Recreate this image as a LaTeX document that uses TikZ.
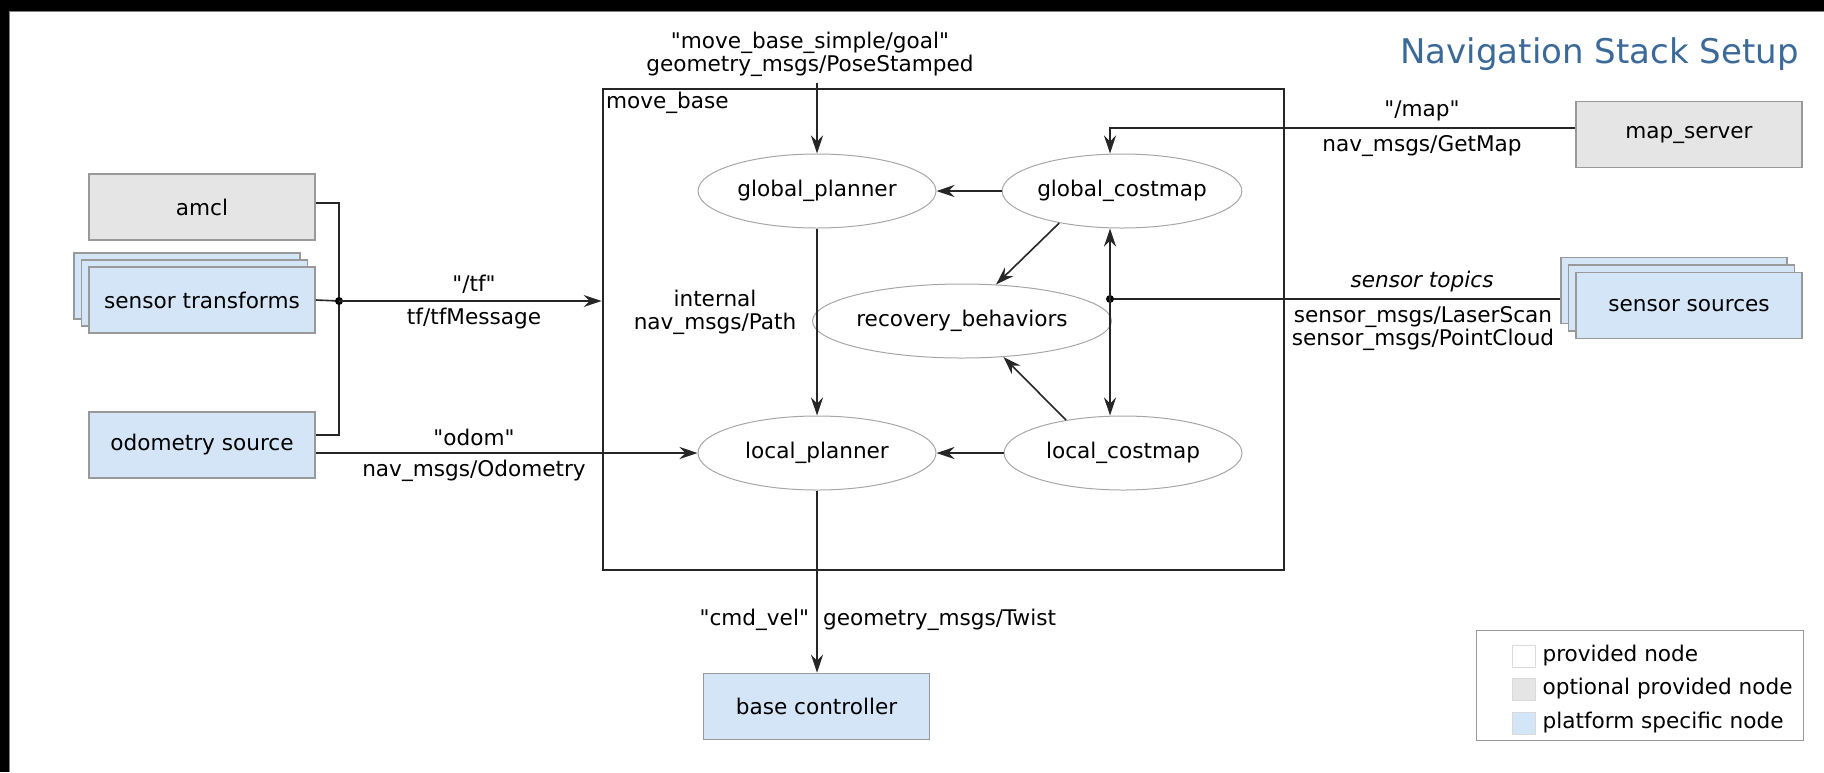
\documentclass[tikz,border=0pt]{standalone}
\usepackage{fontspec}
\newfontfamily\navfont{DejaVu Sans}
\usetikzlibrary{arrows.meta,positioning,shapes.geometric,calc}
\definecolor{optgray}{HTML}{E5E5E5}
\definecolor{platblue}{HTML}{D4E5F7}
\definecolor{edgegray}{HTML}{999999}
\definecolor{titleblue}{HTML}{3B6998}

\begin{document}
\begin{tikzpicture}[x=0.5pt, y=-0.5pt,
  font=\navfont\fontsize{10.8}{11.5}\selectfont,
  nodebox/.style={draw=edgegray, line width=0.8pt, minimum width=113pt, minimum height=33pt, inner sep=0pt},
  optbox/.style={nodebox, fill=optgray},
  platbox/.style={nodebox, fill=platblue},
  proc/.style={ellipse, draw=black!35, line width=0.5pt, minimum width=119pt, minimum height=37pt, inner sep=0pt},
  wire/.style={black!85, line width=0.8pt},
  arr/.style={wire, -{Stealth[length=9pt,width=6pt,inset=3pt]}},
  swatch/.style={draw=black!15, line width=0.5pt, minimum width=11.5pt, minimum height=11pt, inner sep=0pt}]
  \useasboundingbox (0,0) rectangle (1824,772);
  % frame edges
  \fill[black] (0,0) rectangle (1824,11);
  \fill[black] (0,0) rectangle (9,772);
  \draw[gray, line width=0.5pt] (9.5,772) -- (9.5,11.5) -- (1824,11.5);
  % title
  \node[anchor=base east, inner sep=0pt, font=\navfont\fontsize{17}{20}\selectfont, text=titleblue] (title) at (1799,63) {Navigation Stack Setup};

  % left column
  \node[optbox] (amcl) at (202,207) {amcl};
  \foreach \i in {2,1}
    \node[platbox] (sxf back\i) at ({202-7.5*\i},{300-7*\i}) {};
  \node[platbox] (sxf) at (202,300) {sensor transforms};
  \node[platbox] (odom) at (202,445) {odometry source};

  % move_base container
  \node[draw=black!85, line width=1.4pt, minimum width=340.5pt, minimum height=240.5pt, inner sep=0pt] (mbase) at (943.5,329.5) {};
  \node[anchor=north west, inner sep=2pt] (mbaselbl) at (mbase.north west) {move\_base};
  \node[proc] (gplan) at (817,191) {global\_planner};
  \node[proc] (gcost) at (1122,191) {global\_costmap};
  \node[proc] (recov) at (962,321) {recovery\_behaviors};
  \node[proc] (lplan) at (817,453) {local\_planner};
  \node[proc] (lcost) at (1123,453) {local\_costmap};

  % right column
  \node[optbox] (mapsrv) at (1689,134.5) {map\_server};
  \foreach \i in {2,1}
    \node[platbox] (ssrc back\i) at ({1689-7.5*\i},{305.5-7.5*\i}) {};
  \node[platbox] (ssrc) at (1689,305.5) {sensor sources};
  \node[platbox] (basectl) at (816.5,706.5) {base controller};

  \coordinate (tfjoin) at (339,301);
  \coordinate (sensjoin) at (1110,299);

  % transforms into move_base
  \draw[wire] ($(amcl.east)+(0,-4)$) -| (tfjoin) |- ($(odom.east)+(0,-10)$);
  \draw[wire] (sxf.east) -- (tfjoin);
  \fill (tfjoin) circle[radius=2pt];
  \draw[arr] (tfjoin) -- (tfjoin -| mbase.west);
  \node[above] (tftopic) at (474,301) {"/tf"};
  \node[below] (tftype) at (474,301) {tf/tfMessage};

  % odometry
  \draw[arr] (odom.east |- lplan) -- (lplan.west);
  \node[above] (odomtopic) at (474,453) {"odom"};
  \node[below] (odomtype) at (474,453) {nav\_msgs/Odometry};

  % goal
  \node[align=center] (goal) at (810,54) {"move\_base\_simple/goal"\\geometry\_msgs/PoseStamped};
  \draw[arr] (goal.south -| gplan) -- (gplan.north);

  % inside move_base
  \draw[arr] (gcost) -- (gplan);
  \draw[arr] (gplan) -- (lplan);
  \draw[arr] (lcost) -- (lplan);
  \draw[arr] (gcost.207) -- (recov.47);
  \draw[arr] (lcost.150) -- (recov.319);
  \node[align=center] (pathlbl) at (715,312) {internal\\nav\_msgs/Path};

  % map
  \draw[arr] ($(mapsrv.west)+(0,-6.5)$) -| (sensjoin |- gcost.north);
  \node[above] (maptopic) at (1422,128) {"/map"};
  \node[below] (maptype) at (1422,128) {nav\_msgs/GetMap};

  % sensors
  \draw[wire] (ssrc back2.west |- sensjoin) -- (sensjoin);
  \fill (sensjoin) circle[radius=2pt];
  \draw[arr] (sensjoin) -- (sensjoin |- gcost.south);
  \draw[arr] (sensjoin) -- (sensjoin |- lcost.north);
  \node[above] (senstopic) at (1422,299) {\itshape sensor topics};
  \node[below, align=center] (senstype) at (1423,299) {sensor\_msgs/LaserScan\\sensor\_msgs/PointCloud};

  % velocity command
  \draw[arr] (lplan.south) -- (lplan.south |- basectl.north);
  \node[left] (velname) at (816,620) {"cmd\_vel"};
  \node[right] (veltype) at (816,620) {geometry\_msgs/Twist};

  % legend
  \node[draw=edgegray, line width=0.5pt, minimum width=163.5pt, minimum height=55pt, inner sep=0pt] (legend) at (1639.5,685) {};
  \foreach \col/\txt/\y in {white/provided node/656, optgray/optional provided node/689, platblue/platform specific node/723} {
    \node[swatch, fill=\col] (sw\y) at (1523.5,\y) {};
    \node[right] (lg\y) at (sw\y.east) {\txt};
  }
\end{tikzpicture}
\end{document}
